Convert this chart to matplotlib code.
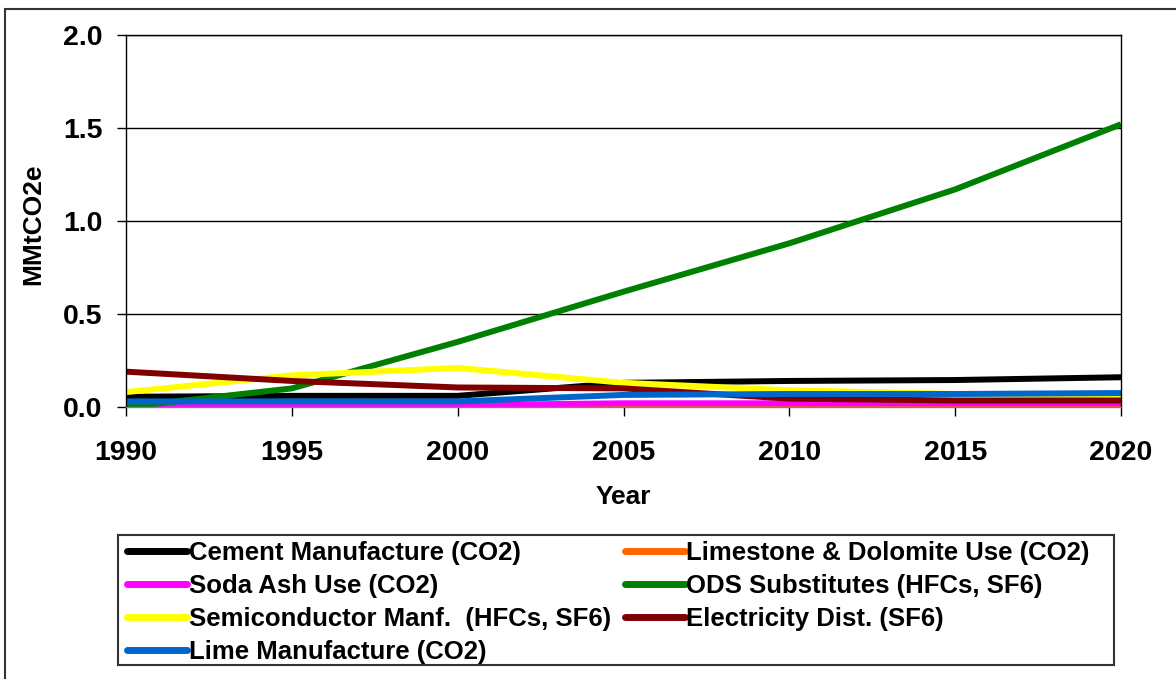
import matplotlib
matplotlib.use("Agg")
import matplotlib.pyplot as plt
from matplotlib.patches import Rectangle

plt.rcParams['font.family'] = ['Liberation Sans', 'DejaVu Sans']
plt.rcParams['font.weight'] = 'bold'

W, H = 1176, 679

# Industrial process emissions, MMtCO2e
years = [1990, 1995, 2000, 2005, 2010, 2015, 2020]
cement = [0.055, 0.06, 0.06, 0.13, 0.14, 0.145, 0.16]
limestone = [0.005, 0.005, 0.005, 0.005, 0.005, 0.005, 0.005]
soda_ash = [0.01, 0.01, 0.01, 0.02, 0.02, 0.02, 0.02]
ods_subs = [0.0, 0.10, 0.35, 0.62, 0.88, 1.17, 1.52]
semicond = [0.08, 0.17, 0.21, 0.13, 0.09, 0.07, 0.06]
elec_dist = [0.19, 0.14, 0.105, 0.10, 0.045, 0.035, 0.035]
lime = [0.03, 0.03, 0.03, 0.065, 0.07, 0.07, 0.075]

series = [
    ("Cement Manufacture (CO2)", cement, "#000000"),
    ("Limestone & Dolomite Use (CO2)", limestone, "#FF6600"),
    ("Soda Ash Use (CO2)", soda_ash, "#FF00FF"),
    ("ODS Substitutes (HFCs, SF6)", ods_subs, "#008000"),
    ("Semiconductor Manf.  (HFCs, SF6)", semicond, "#FFFF00"),
    ("Electricity Dist. (SF6)", elec_dist, "#800000"),
    ("Lime Manufacture (CO2)", lime, "#0066CC"),
]

fig = plt.figure(figsize=(W / 100, H / 100), dpi=100)
ax = fig.add_axes([126 / W, 1 - 407 / H, (1121 - 126) / W, (407 - 35) / H])

handles = {}
for name, vals, col in series:
    ln, = ax.plot(years, vals, color=col, linewidth=4.3, label=name,
                  solid_capstyle='butt', solid_joinstyle='round')
    handles[name] = ln

ax.set_xlim(1990, 2020)
ax.set_ylim(0, 2.0)
ax.set_xticks(range(1990, 2021, 5))
ax.set_yticks([0.0, 0.5, 1.0, 1.5, 2.0])
ax.set_yticklabels(['0.0', '0.5', '1.0', '1.5', '2.0'])
ax.tick_params(axis='both', labelsize=20.5, direction='out', length=6.5, width=1)
ax.tick_params(axis='x', pad=17)
ax.tick_params(axis='y', pad=10.5)
ax.yaxis.grid(True, color='black', linewidth=1)
ax.set_axisbelow(True)
for s in ax.spines.values():
    s.set_linewidth(1)
ax.spines['bottom'].set_color('#808080')

ax.set_xlabel('Year', fontsize=19, fontweight='bold')
ax.set_ylabel('MMtCO2e', fontsize=19, fontweight='bold')
ax.xaxis.set_label_coords(0.5, -0.21)
ax.yaxis.set_label_coords(-0.081, 0.49)

# legend in two columns, read across rows; frame drawn separately
order = [0, 2, 4, 6, 1, 3, 5]
names = [series[i][0] for i in order]
leg = fig.legend([handles[n] for n in names], names, ncol=2,
                 loc='upper left', bbox_to_anchor=(123 / W, 1 - 537 / H),
                 fontsize=18.5, frameon=False,
                 handlelength=2.35, handletextpad=0.05, columnspacing=0.55,
                 labelspacing=0.35, borderpad=0.15, borderaxespad=0)
for t in leg.get_texts():
    t.set_fontweight('bold')
for lh in leg.get_lines():
    lh.set_linewidth(5)
    lh.set_solid_capstyle('round')

fig.patches.append(Rectangle((118 / W, 1 - 665 / H), (1114 - 118) / W, 130 / H,
                             transform=fig.transFigure, fill=False,
                             edgecolor='#333333', linewidth=1.5))

# outer chart border
fig.patches.append(Rectangle((5 / W, -0.05), 1.1, 1 - 9 / H + 0.05, transform=fig.transFigure,
                             fill=False, edgecolor='#333333', linewidth=1.5))

fig.savefig('out.png', dpi=100)
